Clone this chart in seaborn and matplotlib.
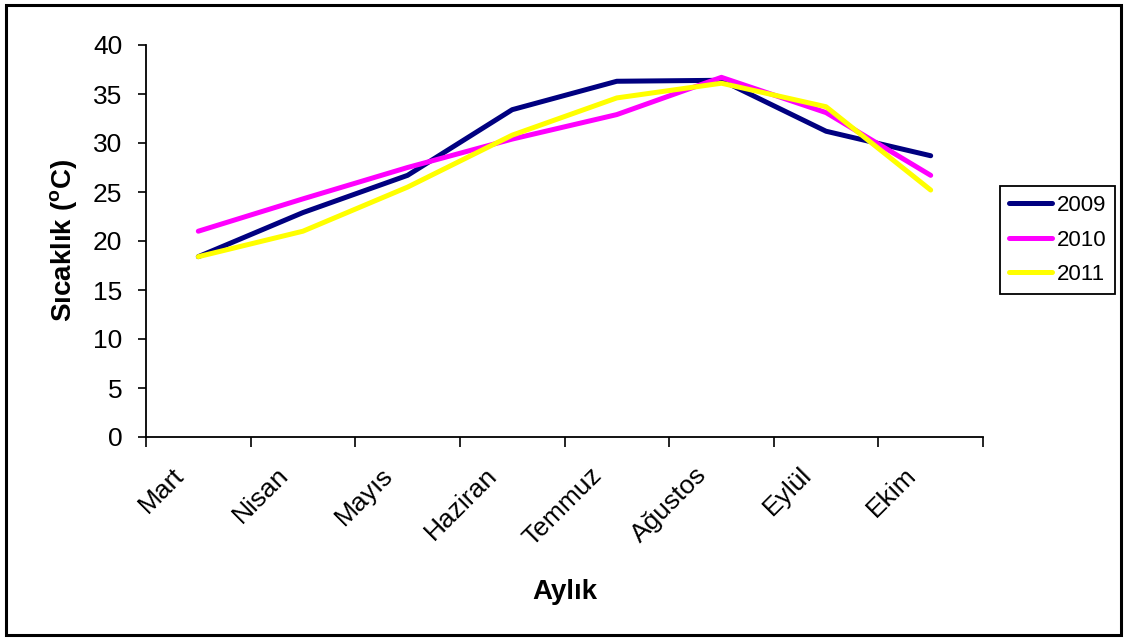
import matplotlib
matplotlib.use("Agg")
import matplotlib.pyplot as plt
import matplotlib.transforms as mtransforms
from matplotlib.patches import Rectangle
from matplotlib.ticker import FixedLocator, NullFormatter
import seaborn as sns
import pandas as pd

# Monthly mean temperatures per year
months = ["Mart", "Nisan", "Mayıs", "Haziran", "Temmuz", "Ağustos", "Eylül", "Ekim"]
t2009 = [18.4, 22.9, 26.7, 33.4, 36.3, 36.4, 31.2, 28.7]
t2010 = [21.0, 24.3, 27.5, 30.4, 32.9, 36.7, 33.1, 26.7]
t2011 = [18.4, 21.0, 25.5, 30.8, 34.6, 36.1, 33.7, 25.2]
years = ["2009", "2010", "2011"]
colors = ["#000080", "#FF00FF", "#FFFF00"]

df = pd.DataFrame({
    "Ay": months * 3,
    "Sıcaklık": t2009 + t2010 + t2011,
    "Yıl": [y for y in years for _ in months],
})

sns.set_theme(style="white")
plt.rcParams["font.family"] = ["Liberation Sans", "DejaVu Sans"]
plt.rcParams.update({
    "text.color": "black", "axes.labelcolor": "black",
    "xtick.color": "black", "ytick.color": "black",
    "mathtext.fontset": "custom",
    "mathtext.rm": "Liberation Sans",
    "mathtext.bf": "Liberation Sans:bold",
})

fig = plt.figure(figsize=(11.25, 6.40), dpi=100)
ax = fig.add_axes([146 / 1125, 1 - 437 / 640, (983 - 146) / 1125, (437 - 45) / 640])

sns.lineplot(data=df, x="Ay", y="Sıcaklık", hue="Yıl", palette=colors,
             linewidth=3.6, sort=False, ax=ax, legend=True)

ax.set_xlim(-0.5, len(months) - 0.5)
ax.set_ylim(0, 40)
ax.set_yticks(range(0, 41, 5))

# tick marks at category boundaries, month names slanted under each category
ax.set_xticks(range(len(months)))
ax.xaxis.set_major_formatter(NullFormatter())
ax.xaxis.set_minor_locator(FixedLocator([i - 0.5 for i in range(len(months) + 1)]))
ax.tick_params(axis="x", which="major", length=0)
ax.tick_params(axis="x", which="minor", length=7, width=1.2, color="black",
               direction="out", bottom=True)
ax.tick_params(axis="y", which="major", length=6, width=1.2, color="black",
               direction="out", left=True, labelsize=19, pad=11)

label_tf = ax.get_xaxis_transform() + mtransforms.ScaledTranslation(
    -0.27, -0.26, fig.dpi_scale_trans)
for i, name in enumerate(months):
    ax.text(i, 0, name, transform=label_tf, rotation=45, ha="right", va="top",
            rotation_mode="anchor", fontsize=19)

for side in ["top", "right"]:
    ax.spines[side].set_visible(False)
for side in ["left", "bottom"]:
    ax.spines[side].set_color("black")
    ax.spines[side].set_linewidth(1.3)

ax.set_xlabel("Aylık", fontsize=20, fontweight="bold", labelpad=0)
ax.xaxis.set_label_coords(0.5, (437 - 579) / (437 - 45), transform=ax.transAxes)
ax.set_ylabel(r"Sıcaklık ($^{\mathbf{o}}$C)", fontsize=20, fontweight="bold")
ax.yaxis.set_label_coords((80 - 146) / (983 - 146), (437 - 240) / (437 - 45),
                          transform=ax.transAxes)

handles, labels = ax.get_legend_handles_labels()
ax.get_legend().remove()
leg = fig.legend(handles, labels, loc="center left",
                 bbox_to_anchor=(1000 / 1125, 1 - 240 / 640),
                 borderaxespad=0,
                 frameon=True, fancybox=False, framealpha=1, edgecolor="black",
                 fontsize=16, handlelength=1.95, handletextpad=0.2,
                 borderpad=0.4, labelspacing=0.6)
leg.get_frame().set_linewidth(1.3)

# outer chart border
fig.patches.append(Rectangle((6 / 1125, 5 / 640), (1121 - 6) / 1125, (635 - 5) / 640,
                             transform=fig.transFigure, fill=False, lw=2.2, ec="black"))

fig.savefig("out.png", dpi=100, facecolor="white")
